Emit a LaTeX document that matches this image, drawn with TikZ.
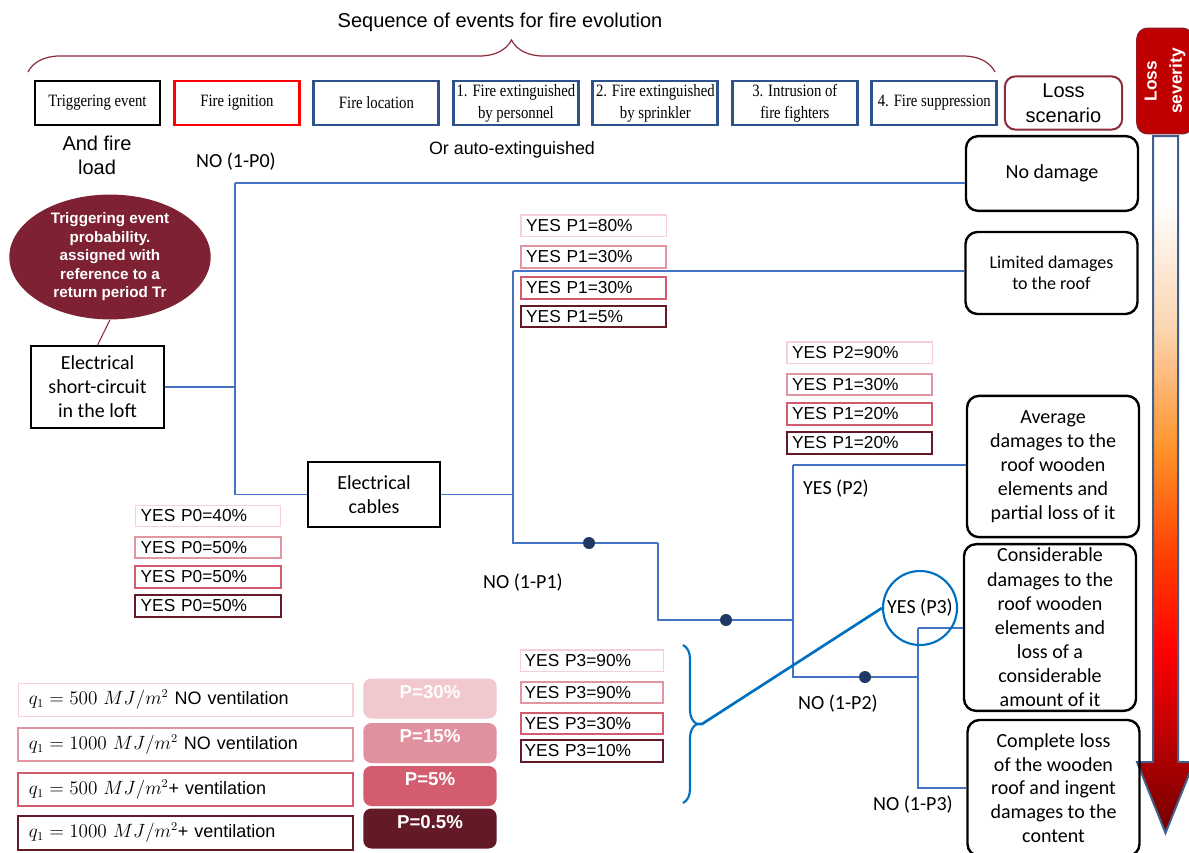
\documentclass[tikz,border=0pt]{standalone}
\usepackage{fontspec}
\setmainfont{Liberation Sans}
\newfontfamily\calibri{Carlito}
\newfontfamily\timesr[FakeStretch=0.85]{Liberation Serif}
\usetikzlibrary{shapes.geometric,positioning,calc,decorations.pathreplacing}
\definecolor{hdblue}{RGB}{46,82,140}
\definecolor{maroon}{RGB}{126,34,51}
\definecolor{scenred}{RGB}{140,45,60}
\definecolor{sevred}{RGB}{192,0,0}
\definecolor{treeblue}{RGB}{68,114,196}
\definecolor{dotblue}{RGB}{31,56,100}
\definecolor{brblue}{RGB}{0,112,192}
\definecolor{pkA}{RGB}{246,208,214}
\definecolor{pkB}{RGB}{226,150,162}
\definecolor{pkC}{RGB}{210,92,110}
\definecolor{pkD}{RGB}{100,26,38}
\definecolor{pfA}{RGB}{240,200,206}
\definecolor{pfB}{RGB}{225,145,158}
\definecolor{pfC}{RGB}{211,93,111}
\definecolor{pfD}{RGB}{100,26,38}
\definecolor{arrowedge}{RGB}{65,95,140}
\definecolor{peach}{RGB}{252,212,175}
\definecolor{orng}{RGB}{255,145,40}
\definecolor{redor}{RGB}{255,60,0}
\definecolor{dkred}{RGB}{110,0,0}
\tikzstyle{head}=[draw, line width=2.2pt, minimum width=93.75pt, minimum height=33pt, inner sep=1pt, align=center, font=\timesr\fontsize{13}{16.5}\selectfont]
\tikzstyle{scen}=[draw, rounded corners=9pt, line width=1.8pt, minimum width=129pt, inner sep=0pt, align=center, font=\calibri\fontsize{15}{18.1}\selectfont]
\tikzstyle{evt}=[draw, line width=1.1pt, align=center, inner sep=0pt, font=\calibri\fontsize{15}{18}\selectfont]
\tikzstyle{yes}=[draw, line width=1.3pt, minimum width=109pt, minimum height=16pt, inner sep=0pt, text width=101pt, align=left, font=\fontsize{13}{14}\selectfont]
\tikzstyle{lgd}=[draw, line width=1.5pt, minimum width=251pt, minimum height=25pt, inner sep=0pt, text width=235pt, align=left, font=\fontsize{13.5}{15}\selectfont]
\tikzstyle{pbox}=[rounded corners=6pt, minimum width=100pt, minimum height=30pt, inner sep=0pt, text=white, font=\bfseries\fontsize{14}{16}\selectfont]
\tikzstyle{lbl}=[inner sep=0pt, font=\calibri\fontsize{15}{18}\selectfont]
\tikzstyle{tree}=[treeblue, line width=0.8pt]
\tikzstyle{dot}=[circle, fill=dotblue, inner sep=0pt, minimum size=9pt]
\tikzstyle{brc}=[decorate, decoration={brace, amplitude=24pt}, scenred, line width=0.9pt]
\tikzstyle{bbr}=[decorate, decoration={brace, amplitude=10.5pt}, brblue, line width=1.6pt]

\begin{document}
\begin{tikzpicture}[x=0.75pt, y=-0.75pt]
        \fill[white] (0,0) rectangle (1189,853);
        \useasboundingbox (0,0) rectangle (1189,853);
        % sequence header
        \node (ttl) at (500,22) {\fontsize{15}{18}\selectfont Sequence of events for fire evolution};
        \draw[brc] (28,72) -- (995,72);
        \node[head] (h0) at (97.5,103) {Triggering event};
        \node[head, draw=red, right=8.65pt of h0] (h1) {Fire ignition};
        \node[head, draw=hdblue, right=8.65pt of h1] (h2) {Fire location};
        \node[head, draw=hdblue, right=8.65pt of h2] (h3) {1. Fire extinguished\\by personnel};
        \node[head, draw=hdblue, right=8.65pt of h3] (h4) {2. Fire extinguished\\by sprinkler};
        \node[head, draw=hdblue, right=8.65pt of h4] (h5) {3. Intrusion of\\fire fighters};
        \node[head, draw=hdblue, right=8.65pt of h5] (h6) {4. Fire suppression};
        \node[draw=scenred, line width=1.5pt, rounded corners=8pt, minimum width=88pt, minimum height=40pt, inner sep=0pt, align=center, font=\fontsize{15}{18.5}\selectfont] (ls) at (1063.5,103) {Loss\\scenario};
        \node[fill=sevred, draw={rgb,255:red,150;green,20;blue,30}, line width=1.2pt, rounded corners=8pt, rotate=90, minimum width=79pt, minimum height=42pt, inner sep=0pt, align=center, text=white, font=\bfseries\fontsize{13}{19}\selectfont] (sev) at (1165,81) {Loss\\severity};
        \node[align=center, font=\fontsize{15}{18}\selectfont] (fl) at (97,155) {And fire\\load};
        \node[font=\fontsize{13.4}{16}\selectfont] (oa) at (512,150) {Or auto-extinguished};
        % severity arrow
        \begin{scope}
        \clip (1153,136) -- (1178,136) -- (1178,762) -- (1194,762) -- (1165.5,833) -- (1137,762) -- (1153,762) -- cycle;
        \fill[white] (1130,130) rectangle (1200,201);
        \shade[top color=white, bottom color=peach] (1130,200) rectangle (1200,331);
        \shade[top color=peach, bottom color=orng] (1130,330) rectangle (1200,451);
        \shade[top color=orng, bottom color=redor] (1130,450) rectangle (1200,561);
        \shade[top color=redor, bottom color=red] (1130,560) rectangle (1200,651);
        \shade[top color=red, bottom color=dkred] (1130,650) rectangle (1200,840);
        \end{scope}
        \draw[arrowedge, line width=1.5pt] (1153,136) -- (1178,136) -- (1178,762) -- (1194,762) -- (1165.5,833) -- (1137,762) -- (1153,762) -- cycle;
        % loss scenarios
        \node[scen, minimum height=56pt] (s0) at (1052,173.5) {No damage};
        \node[scen, minimum height=61.5pt, font=\calibri\fontsize{13.5}{15.8}\selectfont] (s1) at (1051.5,273) {Limited damages\\to the roof};
        \node[scen, minimum height=106pt] (s2) at (1053,466.5) {Average\\damages to the\\roof wooden\\elements and\\partial loss of it};
        \node[scen, minimum height=125pt] (s3) at (1050,627.5) {Considerable\\damages to the\\roof wooden\\elements and\\loss of a\\considerable\\amount of it};
        \node[scen, minimum height=102pt, font=\calibri\fontsize{15}{17.8}\selectfont] (s4) at (1053.5,788) {Complete loss\\of the wooden\\roof and ingent\\damages to the\\content};
        % event tree
        \node[ellipse, fill=maroon, minimum width=151pt, minimum height=93pt, inner sep=0pt, text=white, align=center, font=\bfseries\fontsize{11.4}{13.9}\selectfont] (ell) at (110,257) {Triggering event\\probability.\\assigned with\\reference to a\\return period Tr};
        \node[evt, minimum width=100pt, minimum height=61.5pt] (sc) at (97.5,387) {Electrical\\short-circuit\\in the loft};
        \node[evt, minimum width=99pt, minimum height=49pt] (ec) at (374,494.5) {Electrical\\cables};
        \draw[scenred, line width=0.8pt] (ell.south) -- (sc.north);
        \coordinate (a0) at (235,183);
        \coordinate (a1) at (513,271);
        \coordinate (b1) at (658,543);
        \coordinate (c2) at (793,620);
        \coordinate (a2) at (793,465);
        \coordinate (b2) at (918,677);
        \coordinate (a3) at (918,628);
        \draw[tree] (sc.east) -- (sc.east -| a0);
        \draw[tree] (a0) -- (a0 -| s0.west);
        \draw[tree] (a0) |- (ec.west);
        \draw[tree] (ec.east) -- (ec.east -| a1);
        \draw[tree] (a1) -- (a1 -| s1.west);
        \draw[tree] (a1) |- (b1);
        \draw[tree] (b1) |- (c2);
        \draw[tree] (a2) -- (a2 -| s2.west);
        \draw[tree] (a2) |- (b2);
        \draw[tree] (a3) -- (a3 -| s3.west);
        \draw[tree] (a3) |- (s4.west);
        \node[dot] (d1) at (589,543) {};
        \node[dot] (d2) at (726,620) {};
        \node[dot] (d3) at (865,677) {};
        \node[lbl] (n0) at (236,162) {NO (1-P0)};
        \node[lbl] (n1) at (523,583) {NO (1-P1)};
        \node[lbl] (y2) at (836,489) {YES (P2)};
        \node[lbl] (n2) at (838,704) {NO (1-P2)};
        \node[lbl] (n3) at (913,805) {NO (1-P3)};
        \node[circle, draw=brblue, line width=1.6pt, minimum size=55.5pt, inner sep=0pt, font=\calibri\fontsize{15}{18}\selectfont] (p3) at (920,608) {YES (P3)};
        % probabilities
        \node[yes, draw=pkA, line width=1pt] (p1a) at (593.5,225.5) {YES P1=80\%};
        \node[yes, draw=pkB] (p1b) at (593.5,257) {YES P1=30\%};
        \node[yes, draw=pkC] (p1c) at (593.5,288) {YES P1=30\%};
        \node[yes, draw=pkD] (p1d) at (593.5,316.5) {YES P1=5\%};
        \node[yes, draw=pkA, line width=1pt] (p2a) at (859.5,352.5) {YES P2=90\%};
        \node[yes, draw=pkB] (p2b) at (859.5,384.5) {YES P1=30\%};
        \node[yes, draw=pkC] (p2c) at (859.5,414) {YES P1=20\%};
        \node[yes, draw=pkD] (p2d) at (859.5,443) {YES P1=20\%};
        \node[yes, draw=pkA, line width=1pt] (p0a) at (208,516) {YES P0=40\%};
        \node[yes, draw=pkB] (p0b) at (208,547.5) {YES P0=50\%};
        \node[yes, draw=pkC] (p0c) at (208,577) {YES P0=50\%};
        \node[yes, draw=pkD] (p0d) at (208,606) {YES P0=50\%};
        \node[yes, draw=pkA, line width=1pt, minimum width=107pt] (p3a) at (592,660.5) {YES P3=90\%};
        \node[yes, draw=pkB, minimum width=107pt] (p3b) at (592,692.5) {YES P3=90\%};
        \node[yes, draw=pkC, minimum width=107pt] (p3c) at (592,723.5) {YES P3=30\%};
        \node[yes, draw=pkD, minimum width=107pt] (p3d) at (592,751) {YES P3=10\%};
        \draw[bbr] (683,645) -- (683,803);
        \coordinate (tip) at (697,724);
        \draw[brblue, line width=2pt] (tip) -- ++(5,0) -- (p3.west);
        % fire load legend
        \node[lgd, draw=pkA, line width=1pt] (q1) at (185.5,700) {$q_1 = 500\ MJ/m^2$ NO ventilation};
        \node[lgd, draw=pkB] (q2) at (185.5,744.5) {$q_1 = 1000\ MJ/m^2$ NO ventilation};
        \node[lgd, draw=pkC] (q3) at (185.5,789.5) {$q_1 = 500\ MJ/m^2$+ ventilation};
        \node[lgd, draw=pkD] (q4) at (185.5,833) {$q_1 = 1000\ MJ/m^2$+ ventilation};
        \node[pbox, fill=pfA] (r1) at (430,698.5) {\raisebox{5pt}[\height][\depth]{P=30\%}};
        \node[pbox, fill=pfB] (r2) at (430,743) {\raisebox{5pt}[\height][\depth]{P=15\%}};
        \node[pbox, fill=pfC] (r3) at (430,786) {\raisebox{5pt}[\height][\depth]{P=5\%}};
        \node[pbox, fill=pfD] (r4) at (430,828.5) {\raisebox{5pt}[\height][\depth]{P=0.5\%}};
\end{tikzpicture}
\end{document}
